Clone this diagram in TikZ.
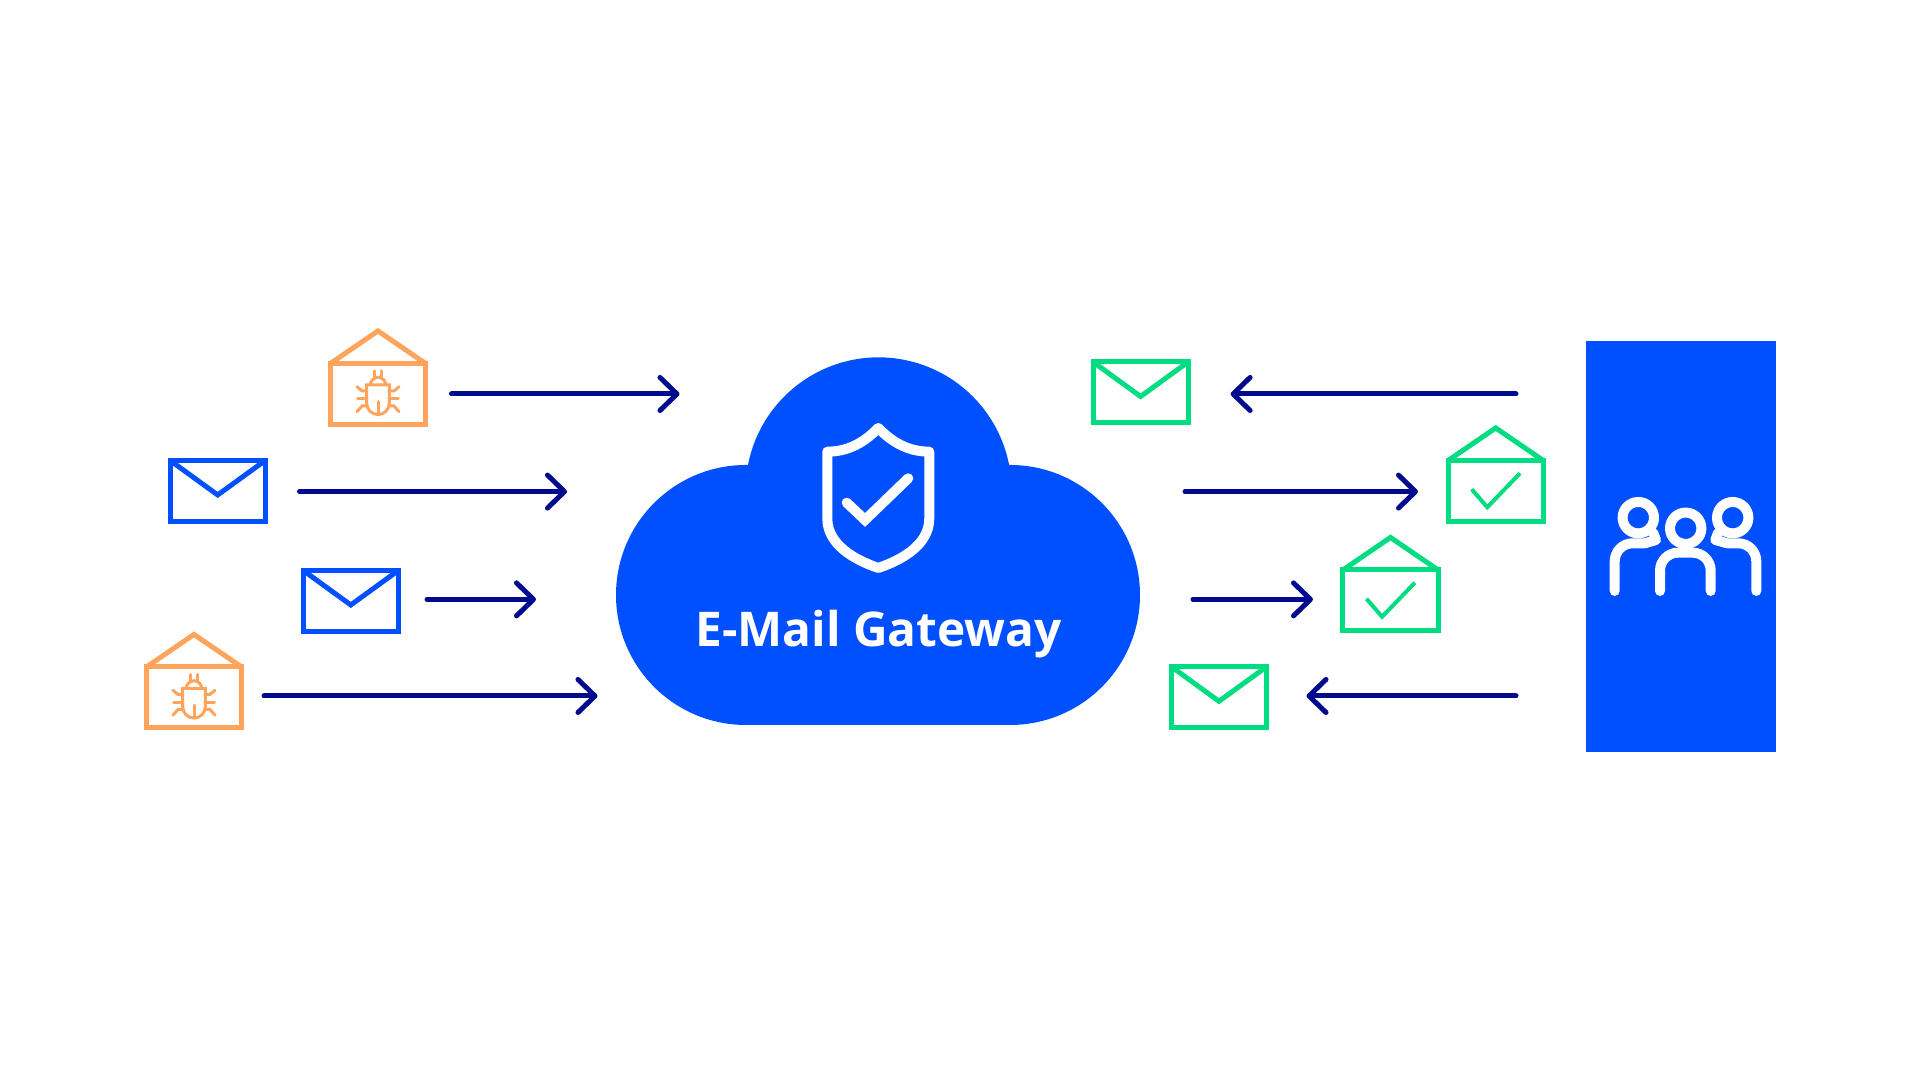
\documentclass[tikz,border=0pt]{standalone}
\usepackage{fontspec}
\setsansfont{Open Sans}
\usetikzlibrary{arrows.meta}
\definecolor{gatewayblue}{HTML}{0050FF}
\definecolor{arrownavy}{HTML}{000A8C}
\definecolor{bugorange}{HTML}{FFA45C}
\definecolor{okgreen}{HTML}{00DC82}
\def\closedBlue{{(217.7, 589)/inA}, {(350.8, 479)/inB}}
\def\closedGreen{{(1140.6, 687.5)/outA}, {(1219, 382.7)/outB}}
\def\openBug{{(378, 686)/bugA}, {(194, 382.5)/bugB}}
\def\openCheck{{(1495.7, 589)/okA}, {(1390.5, 479.5)/okB}}
\def\arrowEnds{{(451.5, 686)/a1}, {(679.5, 686)/a2}, {(299.5, 588.4)/b1}, {(567, 588.4)/b2}, {(427, 480.6)/c1}, {(536, 480.6)/c2}, {(264, 384)/d1}, {(597.5, 384)/d2}, {(1516, 686)/e1}, {(1230.6, 686)/e2}, {(1185, 588.4)/f1}, {(1418, 588.4)/f2}, {(1193, 480.6)/g1}, {(1313, 480.6)/g2}, {(1516, 384)/h1}, {(1306.5, 384)/h2}}
\def\connect{a1/a2, b1/b2, c1/c2, d1/d2, e1/e2, f1/f2, g1/g2, h1/h2}
\tikzstyle{mail} = [draw, line width=0.05cm, minimum width=0.95cm, minimum height=0.61cm, inner sep=0pt, outer sep=0pt]
\tikzstyle{flap} = [draw, line width=0.05cm]
\tikzstyle{edge} = [draw, line width=0.05cm, arrownavy, line cap=round, -{Straight Barb[round, length=0.17cm, width=0.33cm]}]
\tikzstyle{bugline} = [draw, bugorange, line width=0.03cm, line cap=round]
\tikzstyle{whiteline} = [draw, white, line width=0.1cm, line cap=round, line join=round]
\tikzstyle{invis-end} = [coordinate]
\begin{document}
\begin{tikzpicture}[x=0.01cm, y=0.01cm]
  \useasboundingbox (0, 0) rectangle (1920, 1080);

  % The cloud and the panel
  \fill[gatewayblue] (746, 355) arc[start angle=-90, end angle=-270, radius=130] -- (748, 615)
    arc[start angle=169, end angle=11, radius=133] -- (1010, 615)
    arc[start angle=90, end angle=-90, radius=130] -- cycle;
  \node[fill=gatewayblue, minimum width=1.9cm, minimum height=4.11cm, inner sep=0pt] (panel) at (1681, 533.5) {};

  % Shield
  \path[whiteline] (878.3, 652) .. controls (862, 635) and (845, 628.3) .. (827.3, 628.3) -- (827.3, 561.7)
    .. controls (827.3, 535) and (855, 520) .. (878.3, 512)
    .. controls (901.6, 520) and (929.3, 535) .. (929.3, 561.7) -- (929.3, 628.3)
    .. controls (911.6, 628.3) and (894.6, 635) .. cycle;
  \path[whiteline, line join=miter] (846.7, 577.3) -- (865, 560) -- (908.3, 601.7);
  \node[white, font=\sffamily\bfseries\fontsize{13.6}{15}\selectfont, anchor=base] (gatewaylabel) at (878.5, 433.3) {E-Mail Gateway};

  % People on the panel
  \foreach \pos/\name in {{(1638.3, 562.3)/headA}, {(1685.7, 551.7)/headB}, {(1732.7, 562.3)/headC}} {
    \node[invis-end] (\name) at \pos {};
    \path[whiteline] (\name) circle[radius=15.7];
    }
  \path[whiteline] (1614.7, 489) -- (1614.7, 518.7) arc[start angle=180, end angle=90, radius=18] -- (1645, 536.7) -- (1656, 540) -- (1653.3, 547);
  \path[whiteline] (1660, 489) -- (1660, 509.3) arc[start angle=180, end angle=90, radius=18] -- (1692.7, 527.3) arc[start angle=90, end angle=0, radius=18] -- (1710.7, 489);
  \path[whiteline] (1756.3, 489) -- (1756.3, 518.7) arc[start angle=0, end angle=90, radius=18] -- (1727, 536.7) -- (1715.3, 540) -- (1718, 547);

  % Closed mails
  \foreach \pos/\name in \closedBlue {
    \node[mail, gatewayblue] (\name) at \pos {};
    \path[flap, gatewayblue] (\name.north west) -- ++(47.5, -34.5) -- (\name.north east);
    }
  \foreach \pos/\name in \closedGreen {
    \node[mail, okgreen] (\name) at \pos {};
    \path[flap, okgreen] (\name.north west) -- ++(47.5, -34.5) -- (\name.north east);
    }

  % Opened mails with a bug
  \foreach \pos/\name in \openBug {
    \node[mail, bugorange] (\name) at \pos {};
    \path[flap, bugorange] (\name.north west) -- ++(47.5, 32.5) -- (\name.north east);
    \begin{scope}[shift={(\name.center)}]
      \path[bugline] (-11.3, 9) -- (11.3, 9) -- (11.3, -9.3) arc[start angle=0, end angle=-180, radius=11.3] -- cycle;
      \path[bugline] (-7.7, 9) arc[start angle=180, end angle=0, radius=7.7];
      \path[bugline] (-3.7, 15) -- (-3.7, 23) (3.7, 15) -- (3.7, 23) (0, -7.7) -- (0, -19.5);
      \foreach \side in {-1, 1} {
        \path[bugline] (\side*21, 7.3) -- (\side*16, 3) -- (\side*11, 3);
        \path[bugline] (\side*20.3, -5) -- (\side*11, -5);
        \path[bugline] (\side*21, -17.7) -- (\side*16, -12) -- (\side*11, -12);
        }
    \end{scope}
    }

  % Opened mails with a check mark
  \foreach \pos/\name in \openCheck {
    \node[mail, okgreen] (\name) at \pos {};
    \path[flap, okgreen] (\name.north west) -- ++(47.5, 32.5) -- (\name.north east);
    \path[draw, okgreen, line width=0.04cm] ([shift={(-24, 1.7)}]\name.center) -- ([shift={(-8.4, -16.3)}]\name.center) -- ([shift={(24.3, 17.7)}]\name.center);
    }

  % All the arrows
  \foreach \pos/\name in \arrowEnds {
    \node[invis-end] (\name) at \pos {};
    }
  \foreach \source/\sink in \connect {
    \path[edge] (\source) -- (\sink);
    }
\end{tikzpicture}
\end{document}
